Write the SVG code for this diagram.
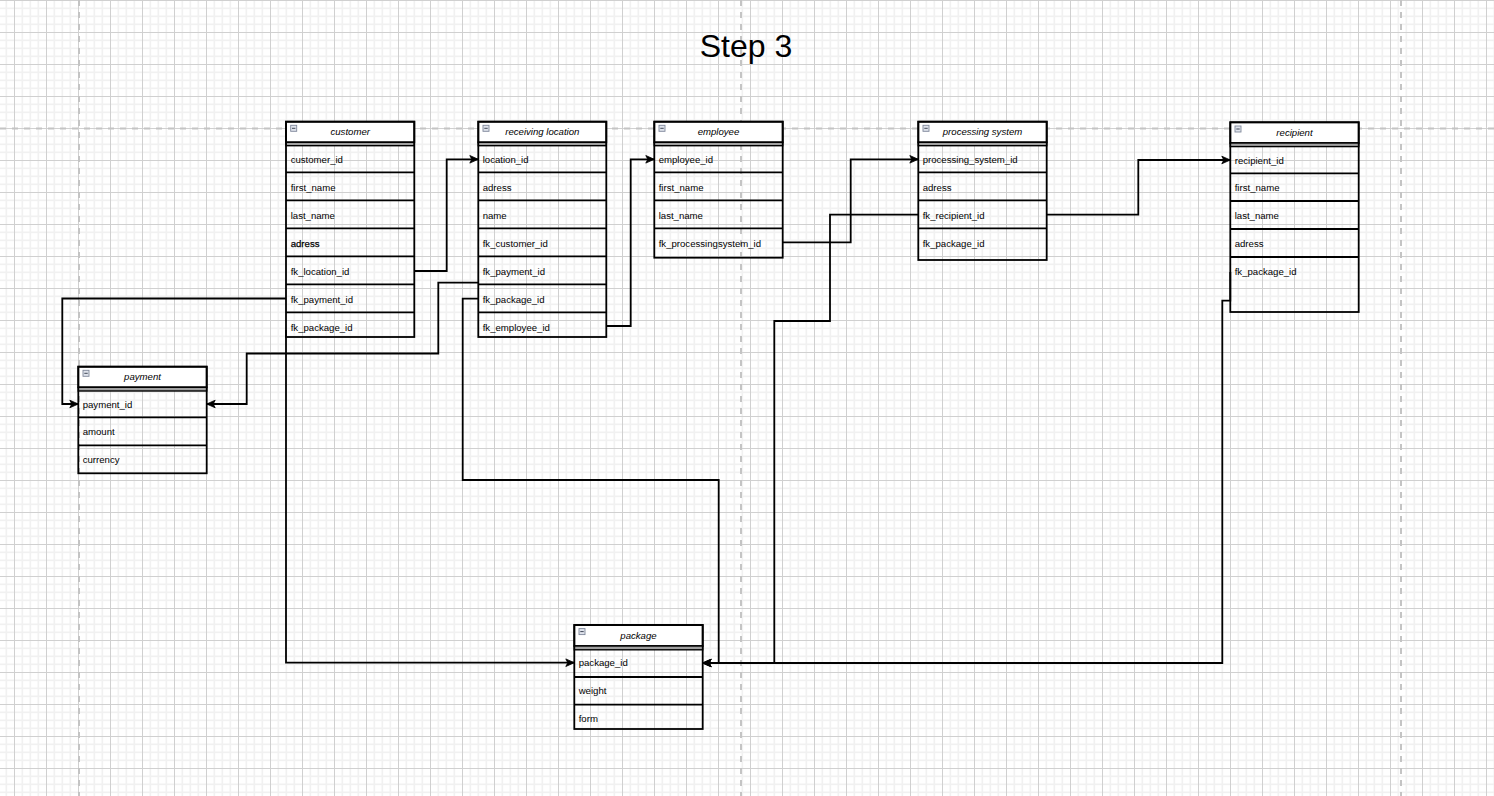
<svg xmlns="http://www.w3.org/2000/svg" width="1494" height="796" viewBox="0 0 1494 796">
<defs>
<pattern id="grid" patternUnits="userSpaceOnUse" x="14" y="0" width="32" height="32">
<rect width="32" height="32" fill="#ffffff"/>
<rect x="7.5" y="0" width="1.6" height="32" fill="#f1f1f1"/>
<rect x="15.5" y="0" width="1.6" height="32" fill="#f1f1f1"/>
<rect x="23.5" y="0" width="1.6" height="32" fill="#f1f1f1"/>
<rect x="0" y="7.5" width="32" height="1.6" fill="#f1f1f1"/>
<rect x="0" y="15.5" width="32" height="1.6" fill="#f1f1f1"/>
<rect x="0" y="23.5" width="32" height="1.6" fill="#f1f1f1"/>
<rect x="0" y="0" width="1" height="32" fill="#d0d0d0"/>
<rect x="0" y="0" width="32" height="1" fill="#d0d0d0"/>
</pattern>
<marker id="arrow" viewBox="0 0 10 10" refX="9.5" refY="5" markerWidth="10" markerHeight="10" markerUnits="userSpaceOnUse" orient="auto">
<path d="M9.5,5 L1,1.2 L3,5 L1,8.8 Z" fill="#000" stroke="#000" stroke-width="0.8"/>
</marker>
</defs>
<style>
.frame{fill:none;stroke:#000;stroke-width:1.8}
.head{fill:#ffffff;stroke:#000;stroke-width:1.8}
.band{fill:#a0a0a0;stroke:#000;stroke-width:1.4}
.row{stroke:#000;stroke-width:1.8}
.ttl{font-family:"Liberation Sans",Arial,sans-serif;font-size:9.6px;font-style:italic;fill:#000;text-anchor:middle}
.fld{font-family:"Liberation Sans",Arial,sans-serif;font-size:9.6px;fill:#000}
.ico{fill:#dfe3ec;stroke:#7f879a;stroke-width:0.9}
.icl{stroke:#3f4656;stroke-width:1}
.page{stroke:#c4c4c4;stroke-width:2;stroke-dasharray:6 6;fill:none}
.edge{fill:none;stroke:#000;stroke-width:1.8;marker-end:url(#arrow)}
</style>
<rect x="0" y="0" width="1494" height="796" fill="url(#grid)"/>
<g id="pagebreaks">
<line class="page" x1="79" y1="0" x2="79" y2="796"/>
<line class="page" x1="741" y1="0" x2="741" y2="796"/>
<line class="page" x1="1401" y1="0" x2="1401" y2="796"/>
<line class="page" x1="0" y1="128.5" x2="1494" y2="128.5"/>
</g>
<text x="746" y="57" style="font-family:'Liberation Sans',Arial,sans-serif;font-size:32px;fill:#000;text-anchor:middle">Step 3</text>

<g id="customer">
<rect class="head" x="286" y="121.7" width="128.3" height="20.6"/>
<rect class="ico" x="290.7" y="125.3" width="6" height="6"/><line class="icl" x1="292" y1="128.3" x2="295.4" y2="128.3"/>
<text class="ttl" x="350.2" y="135.2">customer</text>
<rect class="band" x="286" y="142.3" width="128.3" height="3.4"/>
<line class="row" x1="286" y1="172.3" x2="414.3" y2="172.3"/>
<line class="row" x1="286" y1="200.3" x2="414.3" y2="200.3"/>
<line class="row" x1="286" y1="228.3" x2="414.3" y2="228.3"/>
<line class="row" x1="286" y1="256.3" x2="414.3" y2="256.3"/>
<line class="row" x1="286" y1="284.3" x2="414.3" y2="284.3"/>
<line class="row" x1="286" y1="312.3" x2="414.3" y2="312.3"/>
<rect class="frame" x="286" y="121.7" width="128.3" height="215.3"/>
<text class="fld" x="290.7" y="162.5">customer_id</text>
<text class="fld" x="290.7" y="190.5">first_name</text>
<text class="fld" x="290.7" y="218.5">last_name</text>
<text class="fld" x="290.7" y="246.5" stroke="#000" stroke-width="0.25">adress</text>
<text class="fld" x="290.7" y="274.5">fk_location_id</text>
<text class="fld" x="290.7" y="302.5">fk_payment_id</text>
<text class="fld" x="290.7" y="330.5">fk_package_id</text>
</g>

<g id="receiving_location">
<rect class="head" x="478.3" y="121.7" width="128" height="20.6"/>
<rect class="ico" x="483" y="125.3" width="6" height="6"/><line class="icl" x1="484.3" y1="128.3" x2="487.7" y2="128.3"/>
<text class="ttl" x="542.3" y="135.2">receiving location</text>
<rect class="band" x="478.3" y="142.3" width="128" height="3.4"/>
<line class="row" x1="478.3" y1="172.3" x2="606.3" y2="172.3"/>
<line class="row" x1="478.3" y1="200.3" x2="606.3" y2="200.3"/>
<line class="row" x1="478.3" y1="228.3" x2="606.3" y2="228.3"/>
<line class="row" x1="478.3" y1="256.3" x2="606.3" y2="256.3"/>
<line class="row" x1="478.3" y1="284.3" x2="606.3" y2="284.3"/>
<line class="row" x1="478.3" y1="312.3" x2="606.3" y2="312.3"/>
<rect class="frame" x="478.3" y="121.7" width="128" height="215.3"/>
<text class="fld" x="482.7" y="162.5">location_id</text>
<text class="fld" x="482.7" y="190.5">adress</text>
<text class="fld" x="482.7" y="218.5">name</text>
<text class="fld" x="482.7" y="246.5">fk_customer_id</text>
<text class="fld" x="482.7" y="274.5">fk_payment_id</text>
<text class="fld" x="482.7" y="302.5">fk_package_id</text>
<text class="fld" x="482.7" y="330.5">fk_employee_id</text>
</g>

<g id="employee">
<rect class="head" x="654.3" y="121.7" width="128.4" height="20.6"/>
<rect class="ico" x="659" y="125.3" width="6" height="6"/><line class="icl" x1="660.3" y1="128.3" x2="663.7" y2="128.3"/>
<text class="ttl" x="718.5" y="135.2">employee</text>
<rect class="band" x="654.3" y="142.3" width="128.4" height="3.4"/>
<line class="row" x1="654.3" y1="172.3" x2="782.7" y2="172.3"/>
<line class="row" x1="654.3" y1="200.3" x2="782.7" y2="200.3"/>
<line class="row" x1="654.3" y1="228.3" x2="782.7" y2="228.3"/>
<rect class="frame" x="654.3" y="121.7" width="128.4" height="136"/>
<text class="fld" x="658.7" y="162.5">employee_id</text>
<text class="fld" x="658.7" y="190.5">first_name</text>
<text class="fld" x="658.7" y="218.5">last_name</text>
<text class="fld" x="658.7" y="246.5">fk_processingsystem_id</text>
</g>

<g id="processing_system">
<rect class="head" x="918.3" y="121.7" width="128.4" height="20.6"/>
<rect class="ico" x="923" y="125.3" width="6" height="6"/><line class="icl" x1="924.3" y1="128.3" x2="927.7" y2="128.3"/>
<text class="ttl" x="982.5" y="135.2">processing system</text>
<rect class="band" x="918.3" y="142.3" width="128.4" height="3.4"/>
<line class="row" x1="918.3" y1="172.3" x2="1046.7" y2="172.3"/>
<line class="row" x1="918.3" y1="200.3" x2="1046.7" y2="200.3"/>
<line class="row" x1="918.3" y1="228.3" x2="1046.7" y2="228.3"/>
<rect class="frame" x="918.3" y="121.7" width="128.4" height="138.3"/>
<text class="fld" x="922.7" y="162.5">processing_system_id</text>
<text class="fld" x="922.7" y="190.5">adress</text>
<text class="fld" x="922.7" y="218.5">fk_recipient_id</text>
<text class="fld" x="922.7" y="246.5">fk_package_id</text>
</g>

<g id="recipient">
<rect class="head" x="1230.3" y="122.3" width="128.4" height="20.7"/>
<rect class="ico" x="1235" y="126" width="6" height="6"/><line class="icl" x1="1236.3" y1="129" x2="1239.7" y2="129"/>
<text class="ttl" x="1294.5" y="136">recipient</text>
<rect class="band" x="1230.3" y="143" width="128.4" height="3.6"/>
<line class="row" x1="1230.3" y1="173.3" x2="1358.7" y2="173.3"/>
<line class="row" x1="1230.3" y1="201" x2="1358.7" y2="201"/>
<line class="row" x1="1230.3" y1="229" x2="1358.7" y2="229"/>
<line class="row" x1="1230.3" y1="257" x2="1358.7" y2="257"/>
<rect class="frame" x="1230.3" y="122.3" width="128.4" height="189.7"/>
<text class="fld" x="1234.7" y="163.5">recipient_id</text>
<text class="fld" x="1234.7" y="190.5">first_name</text>
<text class="fld" x="1234.7" y="218.5">last_name</text>
<text class="fld" x="1234.7" y="246.5">adress</text>
<text class="fld" x="1234.7" y="274.5">fk_package_id</text>
</g>

<g id="payment">
<rect class="head" x="78.3" y="366.7" width="128.4" height="20.6"/>
<rect class="ico" x="83" y="370.3" width="6" height="6"/><line class="icl" x1="84.3" y1="373.3" x2="87.7" y2="373.3"/>
<text class="ttl" x="142.5" y="380.2">payment</text>
<rect class="band" x="78.3" y="387.3" width="128.4" height="3.7"/>
<line class="row" x1="78.3" y1="417.3" x2="206.7" y2="417.3"/>
<line class="row" x1="78.3" y1="445.3" x2="206.7" y2="445.3"/>
<rect class="frame" x="78.3" y="366.7" width="128.4" height="106.6"/>
<text class="fld" x="82.7" y="407.5">payment_id</text>
<text class="fld" x="82.7" y="434.5">amount</text>
<text class="fld" x="82.7" y="462.5">currency</text>
</g>

<g id="package">
<rect class="head" x="574.3" y="625" width="128.4" height="21"/>
<rect class="ico" x="579" y="628.6" width="6" height="6"/><line class="icl" x1="580.3" y1="631.6" x2="583.7" y2="631.6"/>
<text class="ttl" x="638.5" y="638.7">package</text>
<rect class="band" x="574.3" y="646" width="128.4" height="3.8"/>
<line class="row" x1="574.3" y1="677" x2="702.7" y2="677"/>
<line class="row" x1="574.3" y1="704.7" x2="702.7" y2="704.7"/>
<rect class="frame" x="574.3" y="625" width="128.4" height="104"/>
<text class="fld" x="578.7" y="666.2">package_id</text>
<text class="fld" x="578.7" y="694.2">weight</text>
<text class="fld" x="578.7" y="722.2">form</text>
</g>

<g id="connectors">
<path class="edge" d="M414.3,271 H446.7 V159.3 H478.3"/>
<path class="edge" d="M286,298.5 H62.3 V404 H78.3"/>
<path class="edge" d="M478.3,282.6 H438.3 V353.5 H246.7 V404 H206.7"/>
<path class="edge" d="M478.3,298.7 H462.7 V480 H718.7 V663 H702.7"/>
<path class="edge" d="M918.3,214.7 H830 V321 H774.3 V663 H702.7"/>
<path class="edge" d="M1230.3,272 V300.7 H1222.3 V663 H702.7"/>
<path class="edge" d="M286,330 V662.7 H574.3"/>
<path class="edge" d="M606.3,326 H630.7 V159.3 H654.3"/>
<path class="edge" d="M782.7,242.3 H850.7 V159.3 H918.3"/>
<path class="edge" d="M1046.7,214.7 H1138.3 V160 H1230.3"/>
</g>
</svg>
